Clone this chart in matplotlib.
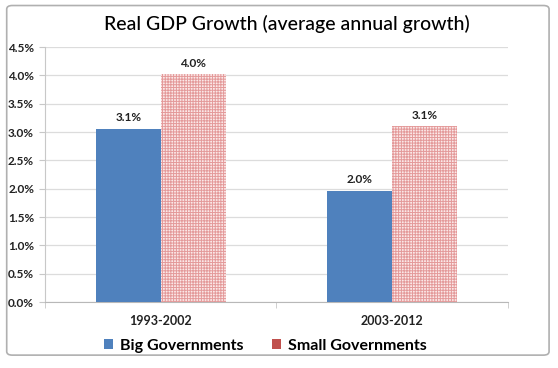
import matplotlib
matplotlib.use("Agg")
import matplotlib.pyplot as plt
import numpy as np
from matplotlib.patches import FancyBboxPatch, Patch

categories = ["1993-2002", "2003-2012"]
big_gov = [3.06, 1.96]
small_gov = [4.02, 3.10]
series_names = ["Big Governments", "Small Governments"]
yticks = [0.0, 0.5, 1.0, 1.5, 2.0, 2.5, 3.0, 3.5, 4.0, 4.5]

plt.rcParams['font.family'] = ['Lato', 'DejaVu Sans']
plt.rcParams['hatch.linewidth'] = 0.7

fig = plt.figure(figsize=(5.58, 3.68), dpi=100)
fig.patch.set_facecolor('white')
frame = FancyBboxPatch((0.012, 0.035), 0.972, 0.95, boxstyle="round,pad=0,rounding_size=0.01",
                       transform=fig.transFigure, fill=False, edgecolor='#b0b0b0', linewidth=1.2)
fig.patches.append(frame)

ax = fig.add_axes([0.081, 0.179, 0.829, 0.693])
x = np.arange(len(categories))
w = 0.28
blue = ax.bar(x - w/2, big_gov, w, color='#4f81bd', zorder=3)
red = ax.bar(x + w/2, small_gov, w, facecolor='#fbe8e8', edgecolor='#e49a9a', hatch='++++++',
             linewidth=0, zorder=3)

for bars, vals in ((blue, big_gov), (red, small_gov)):
    for b, v in zip(bars, vals):
        ax.text(b.get_x() + b.get_width()/2, v + 0.1, f"{v:.1f}%", ha='center', va='bottom',
                fontsize=8.5, fontweight='bold', color='#222222')

ax.set_xlim(-0.5, 1.5)
ax.set_ylim(0, 4.5)
ax.set_yticks(yticks)
ax.set_yticklabels([f"{t:.1f}%" for t in yticks], fontsize=8.5, fontweight='bold', color='#222222')
ax.set_xticks(x)
ax.set_xticklabels(categories, fontsize=9, fontweight='bold', color='#222222')
ax.tick_params(axis='x', length=0, pad=9)
ax.tick_params(axis='y', length=4, color='#c8c8c8', pad=4)
ax.set_xticks([-0.5, 0.5, 1.5], minor=True)
ax.tick_params(axis='x', which='minor', length=4, color='#c8c8c8')
ax.grid(axis='y', color='#dcdcdc', linewidth=0.9, zorder=0)
for s in ('top', 'right'):
    ax.spines[s].set_visible(False)
ax.spines['left'].set_color('#c8c8c8')
ax.spines['bottom'].set_color('#b8b8b8')

fig.text(0.515, 0.935, "Real GDP Growth (average annual growth)", ha='center', va='center',
         fontsize=14, fontweight='medium', color='#000000')

handles = [Patch(facecolor='#4f81bd'), Patch(facecolor='#c0504d')]
leg = fig.legend(handles, series_names, loc='center', bbox_to_anchor=(0.475, 0.06), ncol=2,
                 frameon=False, prop={'size': 11.5, 'weight': 'bold'}, handlelength=0.6,
                 handleheight=0.6, columnspacing=1.8, handletextpad=0.4)

fig.savefig("out.png", dpi=100)
